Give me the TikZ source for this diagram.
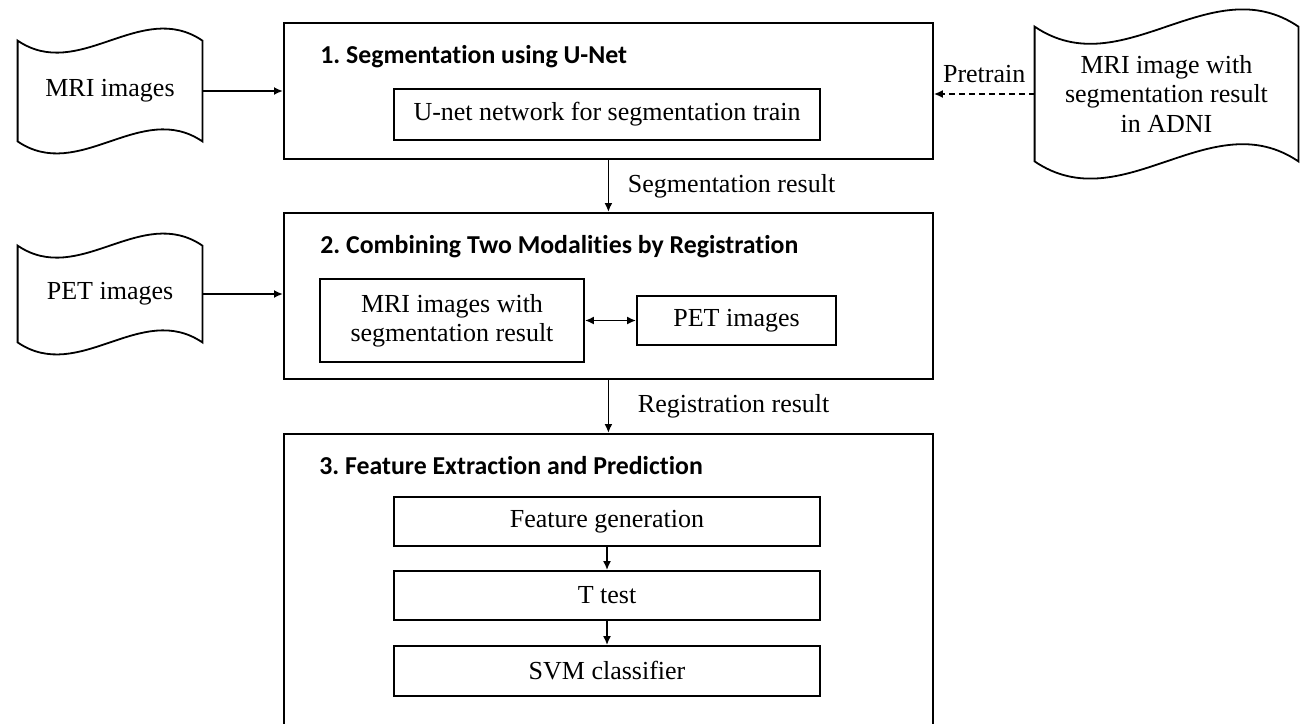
\documentclass[tikz,border=0pt]{standalone}
\usepackage{fontspec}
\setmainfont{Liberation Serif}
\newfontfamily\titlefont[Ligatures=NoCommon]{Carlito}
\usetikzlibrary{calc}
\usetikzlibrary{arrows.meta}

\newcommand{\tapeoutline}[1]{%
    \draw[line width=0.9pt] let \p1=(#1.north west), \p2=(#1.south east), \n1={0.226*(\x2-\x1)} in
        (\x1,\y1) .. controls ({\x1+(\x2-\x1)/3},{\y1-\n1}) and ({\x1+2*(\x2-\x1)/3},{\y1+\n1}) .. (\x2,\y1)
        -- (\x2,\y2) .. controls ({\x1+2*(\x2-\x1)/3},{\y2+\n1}) and ({\x1+(\x2-\x1)/3},{\y2-\n1}) .. (\x1,\y2)
        -- cycle;}

\begin{document}
\frenchspacing
\begin{tikzpicture}[x=0.5pt, y=-0.5pt,
    every node/.style={font=\fontsize{13}{14.5}\selectfont},
    stagebox/.style={draw, line width=0.9pt, anchor=north west, inner sep=0pt, minimum width=324.5pt},
    innerbox/.style={draw, line width=0.9pt, inner sep=0pt, align=center},
    datatape/.style={inner sep=0pt, align=center},
    stagetitle/.style={anchor=west, inner sep=0pt, font=\titlefont\bfseries\fontsize{12.9}{14}\selectfont},
    flow/.style={line width=0.9pt, -{Latex[length=4.5pt,width=4pt]}},
    biflow/.style={line width=0.9pt, {Latex[length=4.5pt,width=4pt]}-{Latex[length=4.5pt,width=4pt]}},
    ]
    \useasboundingbox (0,0) rectangle (1309,723);

    \node[stagebox, minimum height=68pt] (seg) at (283,22) {};
    \node[stagebox, minimum height=83pt] (cmb) at (283,212) {};
    \node[stagebox, minimum height=163.5pt] (pred) at (283,433) {};

    \node[stagetitle] (segtitle) at (320,57) {1. Segmentation using U-Net};
    \node[stagetitle] (cmbtitle) at (320,247) {2. Combining Two Modalities by Registration};
    \node[stagetitle] (predtitle) at (319,466) {3. Feature Extraction and Prediction};

    \node[innerbox, minimum width=213pt, minimum height=25.5pt] (unet) at (607,114.5) {U-net network for segmentation train};
    \node[innerbox, minimum width=132pt, minimum height=41.5pt] (mriseg) at (452,320.5) {MRI images with\\segmentation result};
    \node[innerbox, minimum width=99.5pt, minimum height=24.5pt] (petbox) at (736.5,320.5) {PET images};
    \node[innerbox, minimum width=213pt, minimum height=24.5pt] (feat) at (607,521.5) {Feature generation};
    \node[innerbox, minimum width=213pt, minimum height=24.5pt] (ttest) at (607,595.5) {T test};
    \node[innerbox, minimum width=213pt, minimum height=25pt] (svm) at (607,671) {SVM classifier};

    \node[datatape, minimum width=92pt, minimum height=50pt] (mri) at (110,91) {MRI images};
    \node[datatape, minimum width=92pt, minimum height=48pt] (pet) at (110,294) {PET images};
    \node[datatape, minimum width=131.5pt, minimum height=67pt] (adni) at (1166.5,94) {MRI image with\\segmentation result\\in ADNI};
    \tapeoutline{mri}
    \tapeoutline{pet}
    \tapeoutline{adni}

    \draw[flow] (mri.east) -- (mri.east -| seg.west);
    \draw[flow] (pet.east) -- (pet.east -| cmb.west);
    \draw[flow, dash pattern=on 3pt off 2pt] (adni.west) -- node[above=2pt] (pretrainlbl) {Pretrain} (adni.west -| seg.east);
    \draw[flow] (seg.south) -- node[right=6pt] (seglbl) {Segmentation result} (cmb.north);
    \draw[flow] (cmb.south) -- node[right=11pt] (reglbl) {Registration result} (pred.north);
    \draw[biflow] (mriseg.east) -- (petbox.west);
    \draw[flow] (feat.south) -- (ttest.north);
    \draw[flow] (ttest.south) -- (svm.north);
\end{tikzpicture}
\end{document}
